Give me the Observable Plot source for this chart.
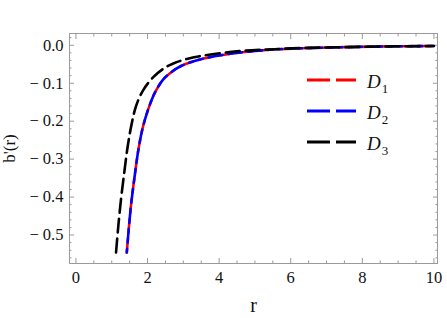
<!DOCTYPE html>
<html><head><meta charset="utf-8">
<script src="https://cdn.jsdelivr.net/npm/d3@7"></script>
<script src="https://cdn.jsdelivr.net/npm/@observablehq/plot@0.6"></script>
<style>
body{margin:0;background:#fff}
#wrap{position:relative;width:447px;height:318px;overflow:hidden}
#legend{position:absolute;left:0;top:0;pointer-events:none}
</style></head><body><div id="wrap"></div>
<script>
// Series
const rD1 = [1.42, 1.47, 1.54, 1.64, 1.75, 1.88, 2.07, 2.22, 2.44, 2.69, 2.91, 3.2, 3.57, 4.0, 4.5, 5.4, 6.3, 7.5, 8.7, 10];
const bD1 = [-0.546, -0.49, -0.42, -0.345, -0.272, -0.212, -0.155, -0.122, -0.09, -0.069, -0.056, -0.045, -0.035, -0.027, -0.02, -0.012, -0.008, -0.005, -0.003, -0.002];
const rD2 = [1.42, 1.47, 1.54, 1.64, 1.75, 1.88, 2.07, 2.22, 2.44, 2.69, 2.91, 3.2, 3.57, 4.0, 4.5, 5.4, 6.3, 7.5, 8.7, 10];
const bD2 = [-0.546, -0.49, -0.42, -0.345, -0.272, -0.212, -0.155, -0.122, -0.09, -0.069, -0.056, -0.045, -0.035, -0.027, -0.02, -0.012, -0.008, -0.005, -0.003, -0.002];
const rD3 = [1.12, 1.18, 1.26, 1.35, 1.44, 1.54, 1.68, 1.88, 2.16, 2.44, 2.72, 3.1, 3.57, 4.5, 5.4, 6.4, 7.5, 8.7, 10];
const bD3 = [-0.546, -0.48, -0.405, -0.335, -0.27, -0.215, -0.16, -0.118, -0.084, -0.062, -0.048, -0.036, -0.027, -0.016, -0.011, -0.007, -0.005, -0.003, -0.002];

const seriesNames = ["D1", "D2", "D3"];
const seriesColors = ["#ff0000", "#0000ff", "#000000"];

// Ticks
const xMajor = [0, 2, 4, 6, 8, 10];
const xMinor = [0.5, 1, 1.5, 2.5, 3, 3.5, 4.5, 5, 5.5, 6.5, 7, 7.5, 8.5, 9, 9.5];
const yMajor = [0, -0.1, -0.2, -0.3, -0.4, -0.5];
const yMinor = [0.02, -0.02, -0.04, -0.06, -0.08, -0.12, -0.14, -0.16, -0.18, -0.22, -0.24, -0.26, -0.28, -0.32, -0.34, -0.36, -0.38, -0.42, -0.44, -0.46, -0.48, -0.52, -0.54, -0.56];

const toRows = (name, rs, bs) => rs.map((r, i) => ({series: name, r, b: bs[i]}));
const rows1 = toRows("D1", rD1, bD1);
const rows2 = toRows("D2", rD2, bD2);
const rows3 = toRows("D3", rD3, bD3);

const grey = "#9a9a9a";
const yFmt = d => d === 0 ? "0.0" : "\u2212 " + Math.abs(d).toFixed(1);
const blank = () => "";

const plot = Plot.plot({
  width: 447, height: 318,
  marginLeft: 69, marginRight: 10, marginTop: 33, marginBottom: 55,
  style: {fontFamily: '"Liberation Serif", "Times New Roman", serif', fontSize: "16.5px", color: "#111", background: "#fff"},
  x: {domain: [-0.18, 10.1]},
  y: {domain: [-0.575, 0.031]},
  marks: [
    Plot.frame({stroke: grey, strokeWidth: 1}),
    // tick labels
    Plot.axisX({ticks: xMajor, tickSize: 0, tickPadding: 8, tickFormat: d => String(d), label: null}),
    Plot.axisY({ticks: yMajor, tickSize: 0, tickPadding: 6, tickFormat: yFmt, label: null}),
    // inward tick marks
    Plot.axisX({anchor: "bottom", ticks: xMajor, tickSize: -5, tickFormat: blank, stroke: grey, label: null}),
    Plot.axisX({anchor: "bottom", ticks: xMinor, tickSize: -2.5, tickFormat: blank, stroke: grey, label: null}),
    Plot.axisX({anchor: "top", ticks: xMajor, tickSize: -5, tickFormat: blank, stroke: grey, label: null}),
    Plot.axisX({anchor: "top", ticks: xMinor, tickSize: -2.5, tickFormat: blank, stroke: grey, label: null}),
    Plot.axisY({anchor: "left", ticks: yMajor, tickSize: -5, tickFormat: blank, stroke: grey, label: null}),
    Plot.axisY({anchor: "left", ticks: yMinor, tickSize: -2.5, tickFormat: blank, stroke: grey, label: null}),
    Plot.axisY({anchor: "right", ticks: yMajor, tickSize: -5, tickFormat: blank, stroke: grey, label: null}),
    Plot.axisY({anchor: "right", ticks: yMinor, tickSize: -2.5, tickFormat: blank, stroke: grey, label: null}),
    // axis titles
    Plot.axisX({ticks: [], tickSize: 0, label: "r", labelAnchor: "center", labelArrow: "none", labelOffset: 48, fontSize: 20}),
    Plot.axisY({ticks: [], tickSize: 0, label: "b'(r)", labelAnchor: "center", labelArrow: "none", labelOffset: 67, fontSize: 17}),
    // curves
    Plot.line(rows1, {x: "r", y: "b", stroke: seriesColors[0], strokeWidth: 2.6, strokeDasharray: "14,6", curve: "catmull-rom"}),
    Plot.line(rows2, {x: "r", y: "b", stroke: seriesColors[1], strokeWidth: 2.6, strokeDasharray: "14,6", strokeDashoffset: 10, curve: "catmull-rom"}),
    Plot.line(rows3, {x: "r", y: "b", stroke: seriesColors[2], strokeWidth: 2.6, strokeDasharray: "14,6", curve: "catmull-rom"})
  ]
});
const wrap = document.getElementById("wrap");
wrap.appendChild(plot);

// Legend overlay
const NS = "http://www.w3.org/2000/svg";
const leg = document.createElementNS(NS, "svg");
leg.setAttribute("id", "legend");
leg.setAttribute("width", 447);
leg.setAttribute("height", 318);
const legRowY = [80, 111, 142];
seriesNames.forEach((name, i) => {
  const y = legRowY[i];
  const ln = document.createElementNS(NS, "line");
  ln.setAttribute("x1", 307); ln.setAttribute("x2", 356);
  ln.setAttribute("y1", y); ln.setAttribute("y2", y);
  ln.setAttribute("stroke", seriesColors[i]);
  ln.setAttribute("stroke-width", 3);
  ln.setAttribute("stroke-dasharray", "23,6");
  leg.appendChild(ln);
  const t = document.createElementNS(NS, "text");
  t.setAttribute("x", 367); t.setAttribute("y", y + 8);
  t.setAttribute("font-family", '"Liberation Serif", "Times New Roman", serif');
  t.setAttribute("font-size", 19);
  t.setAttribute("fill", "#111");
  const tD = document.createElementNS(NS, "tspan");
  tD.setAttribute("font-style", "italic");
  tD.textContent = name[0];
  const tS = document.createElementNS(NS, "tspan");
  tS.setAttribute("font-size", 13);
  tS.setAttribute("dy", 5);
  tS.setAttribute("dx", 1);
  tS.textContent = name.slice(1);
  t.appendChild(tD); t.appendChild(tS);
  leg.appendChild(t);
});
wrap.appendChild(leg);
</script>
</body></html>
